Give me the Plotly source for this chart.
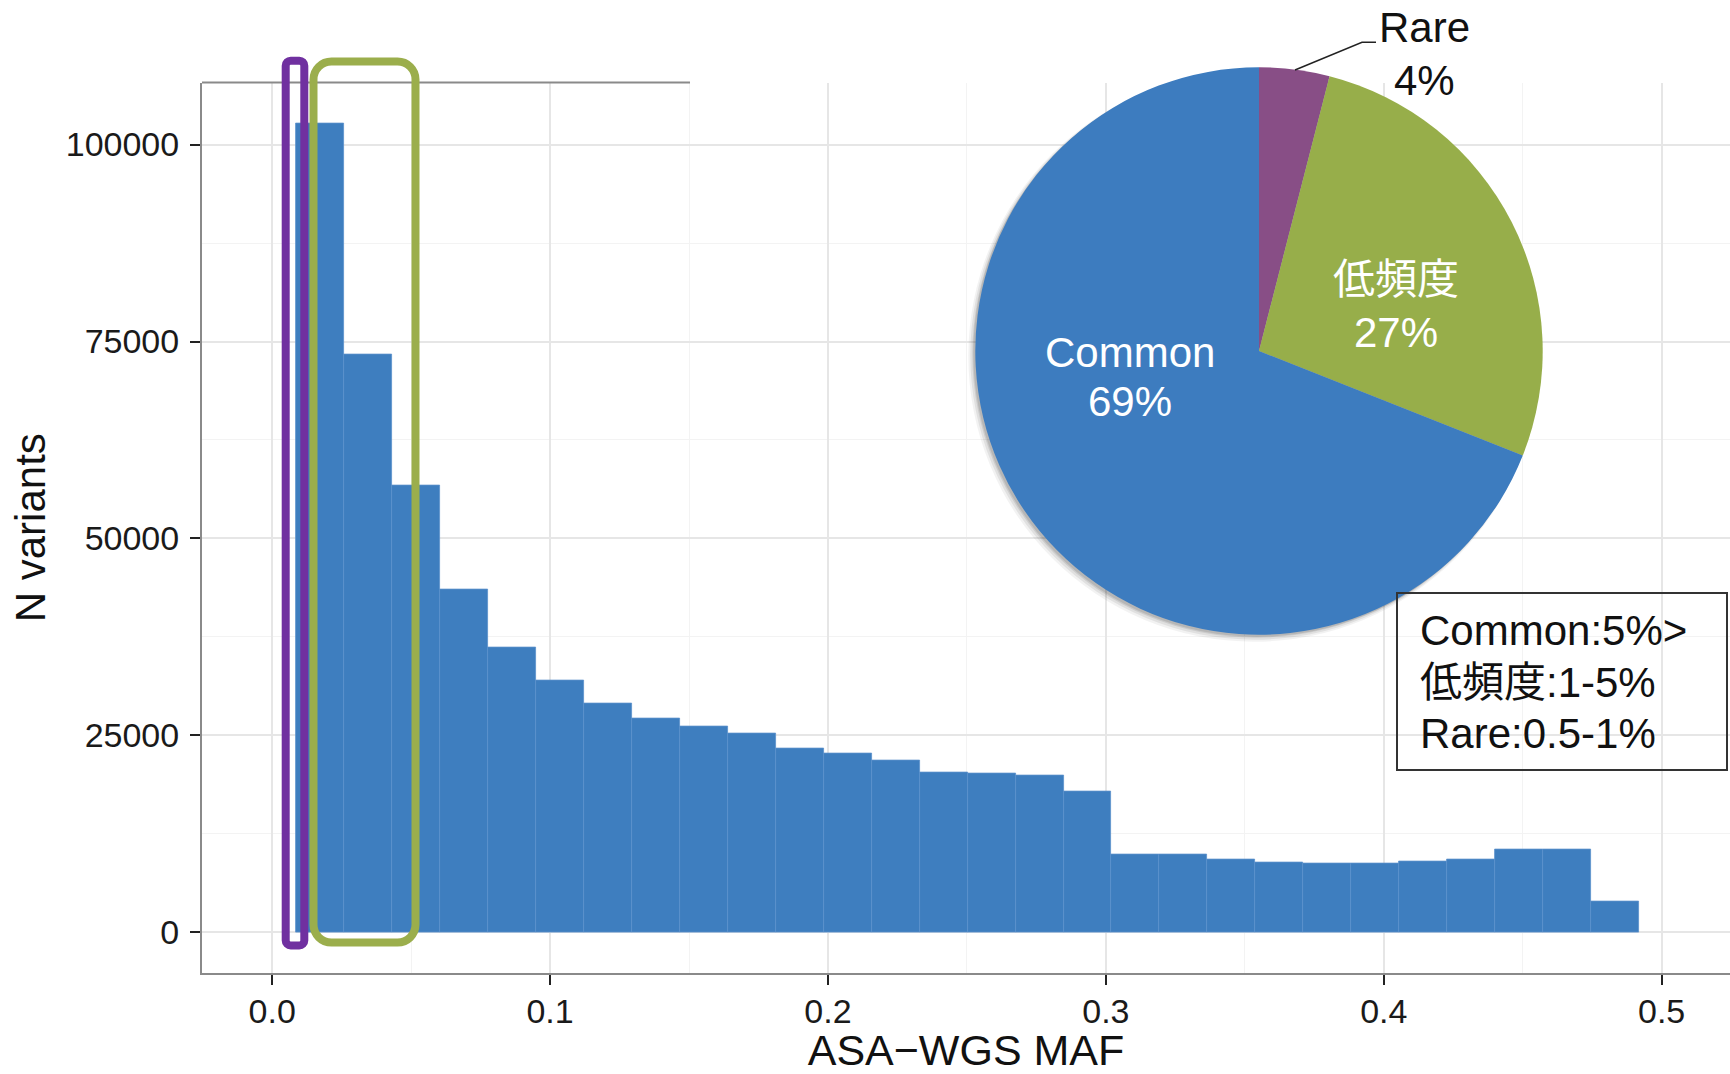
import plotly.graph_objects as go

# ---------------- data ----------------
maf_bin_start = 0.0086
maf_bin_width = 0.01726
n_variants = [102700, 73400, 56750, 43500, 36150, 32000, 29000, 27200, 26100, 25300,
              23350, 22650, 21870, 20260, 20180, 19930, 17850, 9940, 9850, 9300,
              8920, 8760, 8760, 8960, 9220, 10450, 10540, 3880]

pie_labels = ["Rare", "低頻度", "Common"]
pie_values = [4, 27, 69]
pie_colors = ["#884E86", "#97AE4A", "#3D7CBF"]

legend_lines = ["Common:5%>", "低頻度:1-5%", "Rare:0.5-1%"]

x_tick_vals = [0.0, 0.1, 0.2, 0.3, 0.4, 0.5]
y_tick_vals = [0, 25000, 50000, 75000, 100000]

# ---------------- layout helpers ----------------
W, H = 1730, 1074
FONT = "Liberation Sans, Arial, Noto Sans CJK JP, sans-serif"
BAR_COLOR = "#3E7EBF"
AXIS_GRAY = "#8A8A8A"


def px(x):
    return x / W


def py(y):
    return 1 - y / H


def rounded_rect(x0, y0, x1, y1, r):
    k = 0.5523 * r
    pts = [
        ("M", [(x0 + r, y0)]),
        ("L", [(x1 - r, y0)]),
        ("C", [(x1 - r + k, y0), (x1, y0 + r - k), (x1, y0 + r)]),
        ("L", [(x1, y1 - r)]),
        ("C", [(x1, y1 - r + k), (x1 - r + k, y1), (x1 - r, y1)]),
        ("L", [(x0 + r, y1)]),
        ("C", [(x0 + r - k, y1), (x0, y1 - r + k), (x0, y1 - r)]),
        ("L", [(x0, y0 + r)]),
        ("C", [(x0, y0 + r - k), (x0 + r - k, y0), (x0 + r, y0)]),
    ]
    s = ""
    for cmd, ps in pts:
        s += cmd + " " + " ".join(f"{px(a):.6f},{py(b):.6f}" for a, b in ps) + " "
    return s + "Z"


centers = [maf_bin_start + (i + 0.5) * maf_bin_width for i in range(len(n_variants))]

fig = go.Figure()

fig.add_trace(go.Bar(
    x=centers, y=n_variants, width=maf_bin_width,
    marker=dict(color=BAR_COLOR, line=dict(color="#5A91CB", width=0.8)),
    hoverinfo="x+y", showlegend=False,
))

# pie with soft shadow
cx, cy, R = 1259, 351, 283.7
for dx, dy, extra, a in [(-5, 5, 2, 0.05), (-4, 4, 1, 0.07), (-3, 3, 0, 0.09), (-2, 2, 0, 0.1)]:
    rr = R + extra
    fig.add_trace(go.Pie(
        values=[1], labels=["shadow"], sort=False, textinfo="none", hoverinfo="skip",
        marker=dict(colors=[f"rgba(0,0,0,{a})"], line=dict(width=0)),
        domain=dict(x=[px(cx + dx - rr), px(cx + dx + rr)], y=[py(cy + dy + rr), py(cy + dy - rr)]),
        showlegend=False,
    ))

fig.add_trace(go.Pie(
    labels=pie_labels, values=pie_values, sort=False, direction="clockwise", rotation=0,
    marker=dict(colors=pie_colors, line=dict(width=0)),
    textinfo="none", hoverinfo="label+percent",
    domain=dict(x=[px(cx - R), px(cx + R)], y=[py(cy + R), py(cy - R)]),
    showlegend=False,
))

total = sum(pie_values)
pct = {lab: f"{round(100 * v / total)}%" for lab, v in zip(pie_labels, pie_values)}

annotations = []


def add_text(text, x, y, color, size=42, xanchor="center"):
    annotations.append(dict(
        text=text, x=px(x), y=py(y), xref="paper", yref="paper", showarrow=False,
        xanchor=xanchor, yanchor="middle",
        font=dict(family=FONT, color=color, size=size),
    ))


# pie slice labels
add_text("Common", 1130, 352, "white")
add_text(pct["Common"], 1130, 401, "white")
add_text("低頻度", 1396, 279, "white")
add_text(pct["低頻度"], 1396, 332, "white")
add_text("Rare", 1424, 27.5, "#111")
add_text(pct["Rare"], 1424, 80, "#111")
# legend box text
for line, yy in zip(legend_lines, [630.5, 682, 733.5]):
    add_text(line, 1418, yy, "#111", size=42, xanchor="left")

shapes = [
    # white inset background hiding the grid behind the pie
    dict(type="rect", xref="paper", yref="paper", x0=px(690), x1=1, y0=py(710), y1=py(82.5),
         fillcolor="white", line=dict(width=0), layer="between"),
    # top border segment of the panel
    dict(type="line", xref="paper", yref="paper", x0=px(202), x1=px(690), y0=py(82.5), y1=py(82.5),
         line=dict(color=AXIS_GRAY, width=2), layer="above"),
    # highlight boxes
    dict(type="path", xref="paper", yref="paper", path=rounded_rect(285.7, 60.7, 304.3, 945.5, 5),
         line=dict(color="#7030A0", width=8), layer="above"),
    dict(type="path", xref="paper", yref="paper", path=rounded_rect(313.5, 61.5, 415.5, 942.6, 18),
         line=dict(color="#9BAE4C", width=8), layer="above"),
    # legend frame
    dict(type="rect", xref="paper", yref="paper", x0=px(1397), x1=px(1727), y0=py(770), y1=py(593),
         line=dict(color="#333333", width=2), fillcolor="rgba(0,0,0,0)", layer="above"),
    # leader line for Rare
    dict(type="path", xref="paper", yref="paper",
         path=f"M {px(1295):.6f},{py(70):.6f} L {px(1362):.6f},{py(42.3):.6f} L {px(1376):.6f},{py(42.3):.6f}",
         line=dict(color="#222222", width=1.5), layer="above"),
]

fig.update_layout(
    width=W, height=H,
    margin=dict(l=0, r=0, t=0, b=0),
    paper_bgcolor="white", plot_bgcolor="white",
    bargap=0, showlegend=False,
    font=dict(family=FONT, color="#1a1a1a"),
    annotations=annotations, shapes=shapes,
    xaxis=dict(
        domain=[px(202), 1], range=[-0.02526, 0.5246],
        tickvals=x_tick_vals, tickformat=".1f",
        showgrid=True, gridcolor="#E6E6E6", gridwidth=2,
        minor=dict(dtick=0.05, tick0=0, showgrid=True, gridcolor="#F3F3F3", gridwidth=1.2),
        showline=True, linecolor=AXIS_GRAY, linewidth=2,
        ticks="outside", ticklen=10, tickwidth=2, tickcolor="#222",
        tickfont=dict(size=34, color="#1a1a1a"), ticklabelstandoff=-3,
        zeroline=False,
        title=dict(text="ASA−WGS MAF", font=dict(size=43, color="#111"), standoff=4),
    ),
    yaxis=dict(
        domain=[py(973), py(82.5)], range=[-5166, 107880],
        tickvals=y_tick_vals, tickformat="d",
        showgrid=True, gridcolor="#E6E6E6", gridwidth=2,
        minor=dict(dtick=12500, tick0=0, showgrid=True, gridcolor="#F3F3F3", gridwidth=1.2),
        showline=True, linecolor=AXIS_GRAY, linewidth=2,
        ticks="outside", ticklen=10, tickwidth=2, tickcolor="#222",
        tickfont=dict(size=34, color="#1a1a1a"), ticklabelstandoff=4,
        zeroline=False,
        title=dict(text="N variants", font=dict(size=42, color="#111"), standoff=7),
    ),
)

fig.write_html(
    "out.html",
    config={"displayModeBar": False},
    post_script="document.body.style.margin='0';document.body.style.overflow='hidden';",
)
